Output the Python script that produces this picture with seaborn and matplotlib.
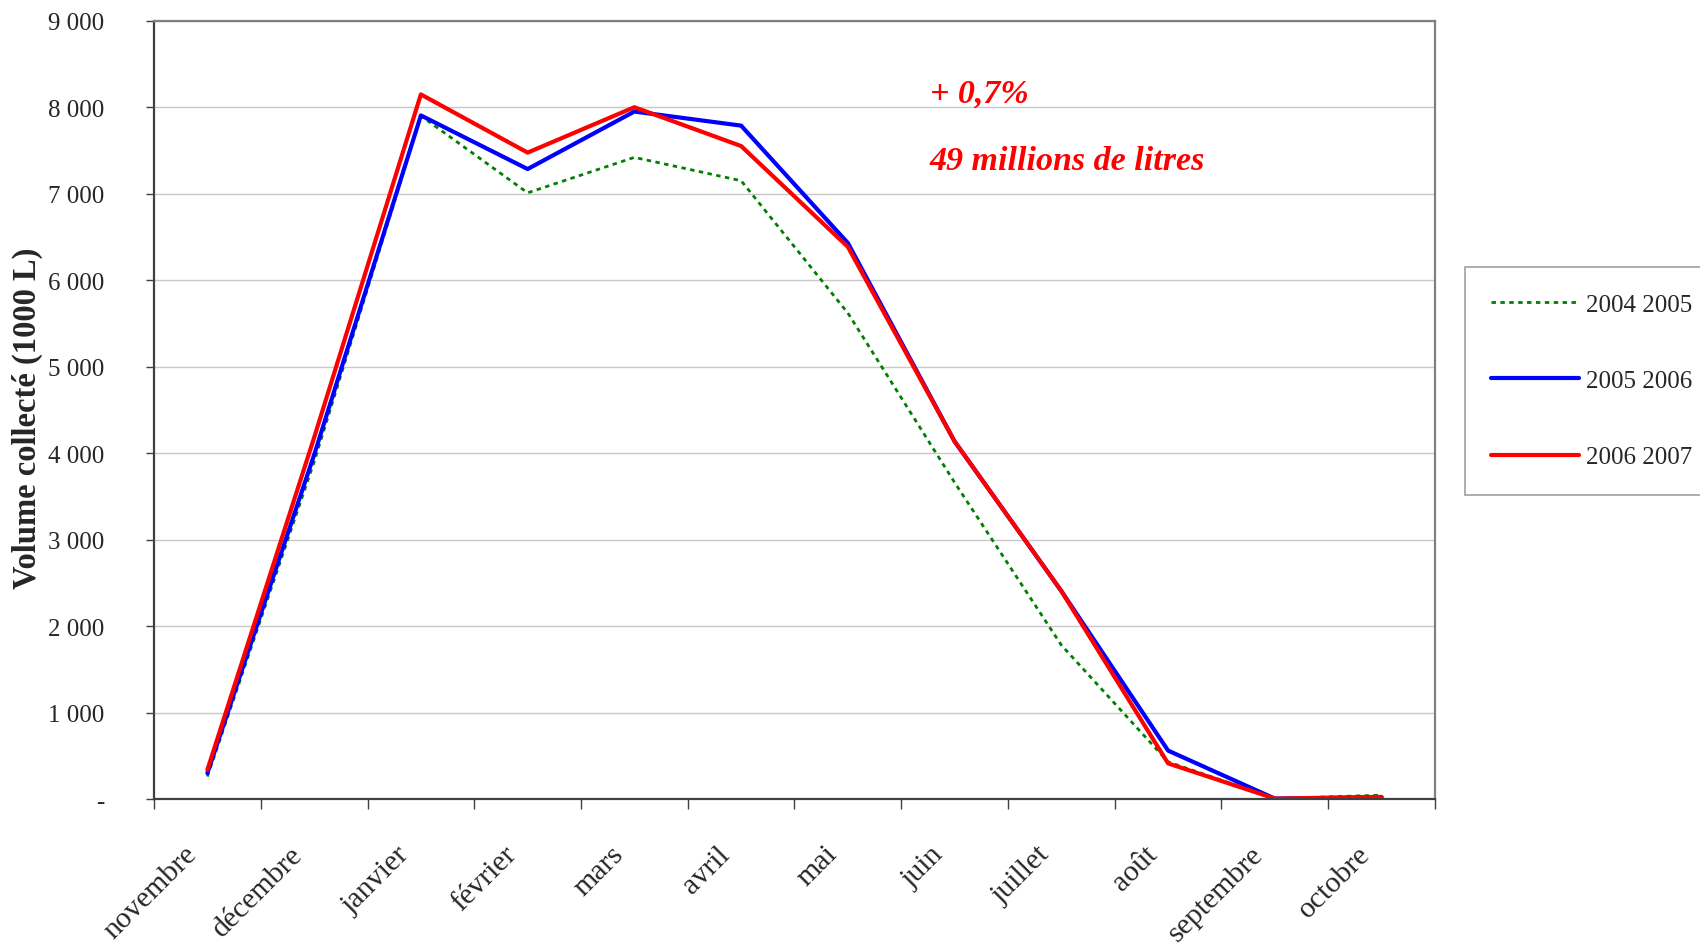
import matplotlib
matplotlib.use('Agg')
import matplotlib.pyplot as plt
from matplotlib.lines import Line2D
from matplotlib.ticker import FuncFormatter
from matplotlib.transforms import ScaledTranslation
import seaborn as sns
import numpy as np
import pandas as pd

# monthly collected volume (1000 L), Nov -> Oct
months = ['novembre', 'décembre', 'janvier', 'février', 'mars', 'avril',
          'mai', 'juin', 'juillet', 'août', 'septembre', 'octobre']
seasons = ['2004 2005', '2005 2006', '2006 2007']
vol_2004_2005 = [260, 3900, 7900, 7010, 7420, 7150, 5620, 3660, 1780, 430, 5, 45]
vol_2005_2006 = [300, 3980, 7905, 7285, 7950, 7787, 6430, 4135, 2405, 560, 5, 20]
vol_2006_2007 = [338, 4180, 8148, 7475, 8000, 7551, 6385, 4135, 2405, 412, 5, 25]

df = pd.DataFrame({
    'pos': np.tile(np.arange(len(months)), 3),
    'mois': months * 3,
    'saison': np.repeat(seasons, len(months)),
    'volume': vol_2004_2005 + vol_2005_2006 + vol_2006_2007,
})

sns.set_style('white')
plt.rcParams['font.family'] = ['Liberation Serif', 'DejaVu Serif']

styles = {
    '2004 2005': dict(color='#008000', lw=2.0, ls=(0, (1.6, 1.6))),
    '2005 2006': dict(color='#0000ff', lw=3.0, ls='-'),
    '2006 2007': dict(color='#ff0000', lw=3.0, ls='-'),
}

fig = plt.figure(figsize=(17, 9.45), dpi=100)
ax = fig.add_axes([0.0906, 0.1534, 0.7535, 0.8236])

for s in seasons:
    st = styles[s]
    sns.lineplot(data=df[df['saison'] == s], x='pos', y='volume', ax=ax,
                 color=st['color'], linewidth=st['lw'], linestyle=st['ls'],
                 legend=False)

ax.set_xlim(-0.5, len(months) - 0.5)
ax.set_ylim(0, 9000)
ax.set_yticks(np.arange(0, 9001, 1000))
ax.yaxis.set_major_formatter(FuncFormatter(
    lambda v, p: '-' if v == 0 else f'{v:,.0f}'.replace(',', ' ')))
ax.tick_params(axis='y', labelsize=18, length=6, width=1, color='#404040',
               pad=30, left=True)

ax.set_xticks(np.arange(len(months)))
ax.set_xticklabels(months, rotation=45, ha='right', fontsize=21.5)
ax.tick_params(axis='x', length=0, pad=30)
shift = ScaledTranslation(-6 / 100, 0, fig.dpi_scale_trans)
for lab in ax.get_xticklabels():
    lab.set_transform(lab.get_transform() + shift)
ax.set_xticks(np.arange(-0.5, len(months)), minor=True)
ax.tick_params(axis='x', which='minor', length=7, width=1, color='#404040',
               bottom=True)

ax.yaxis.grid(True, color='#c8c8c8', lw=1)
ax.set_axisbelow(True)
for side in ['left', 'bottom']:
    ax.spines[side].set_color('#404040')
    ax.spines[side].set_linewidth(1.6)
for side in ['top', 'right']:
    ax.spines[side].set_color('#808080')
    ax.spines[side].set_linewidth(1.6)

ax.set_xlabel('')
ax.set_ylabel('Volume collecté (1000 L)', fontsize=23.5, fontweight='bold')
ax.yaxis.set_label_coords(-0.0867, 0.49)

fig.text(930 / 1700, 1 - 94 / 945, '+ 0,7%', color='#ff0000', fontsize=24.5,
         fontweight='bold', fontstyle='italic', va='center', ha='left')
fig.text(930 / 1700, 1 - 161 / 945, '49 millions de litres', color='#ff0000',
         fontsize=24.5, fontweight='bold', fontstyle='italic', va='center', ha='left')

handles = [Line2D([], [], color=styles[s]['color'], lw=styles[s]['lw'],
                  ls=styles[s]['ls']) for s in seasons]
leg = fig.legend(handles, seasons, loc='upper left',
                 bbox_to_anchor=(1465 / 1700, 1 - 268 / 945), fontsize=18,
                 frameon=True, fancybox=False, edgecolor='#a0a0a0',
                 framealpha=1, borderpad=1.05, labelspacing=2.15,
                 handlelength=3.5, handletextpad=0.3, borderaxespad=0)
leg.get_frame().set_linewidth(1.2)

fig.savefig('out.png', dpi=100)
